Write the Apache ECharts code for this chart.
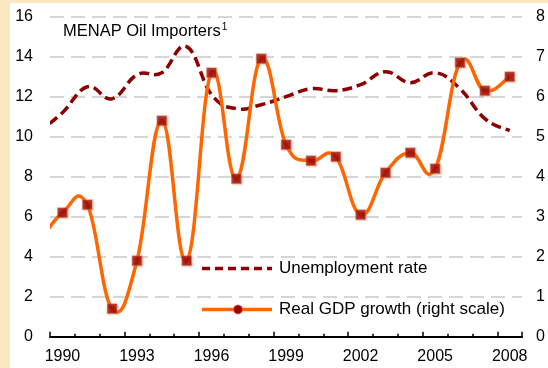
<!DOCTYPE html>
<html>
<head>
<meta charset="utf-8">
<script src="https://cdn.jsdelivr.net/npm/echarts@6/dist/echarts.min.js"></script>
<style>
  html, body { margin: 0; padding: 0; background: #fce7c3; }
  #panel { position: absolute; left: 10px; top: 3px; width: 538px; height: 365px; background: #ffffff; }
  #chart { position: absolute; left: 0; top: 0; width: 548px; height: 368px; }
</style>
</head>
<body>
<div id="panel"></div>
<div id="chart"></div>
<script>
// Years shown on the category axis
var years = ['1990','1991','1992','1993','1994','1995','1996','1997','1998','1999',
             '2000','2001','2002','2003','2004','2005','2006','2007','2008'];
var yearNums = [1990,1991,1992,1993,1994,1995,1996,1997,1998,1999,
                2000,2001,2002,2003,2004,2005,2006,2007,2008];

// Unemployment rate, percent (left scale); the 1989 value only shapes the clipped lead-in
var unemployment1989 = 10.2;
var unemployment = [11.2, 12.5, 11.9, 13.1, 13.2, 14.5, 12.1, 11.4, 11.6, 12.0,
                    12.4, 12.3, 12.6, 13.25, 12.7, 13.2, 12.4, 10.9, 10.3];

// Real GDP growth, percent (right scale)
var gdp1989 = 2.3;
var gdpGrowth = [3.1, 3.3, 0.7, 1.9, 5.4, 1.9, 6.6, 3.95, 6.95, 4.8,
                 4.4, 4.5, 3.05, 4.1, 4.6, 4.2, 6.85, 6.15, 6.5];

// Axis tick labels
var leftTicks = [0, 2, 4, 6, 8, 10, 12, 14, 16];
var rightTicks = [0, 1, 2, 3, 4, 5, 6, 7, 8];

var FONT = 'Liberation Sans, Arial, sans-serif';
var RED = '#8b0000';
var ORANGE = '#ff6600';

function withLead(lead, values) {
  var pts = [[yearNums[0] - 1, lead]];
  for (var i = 0; i < values.length; i++) pts.push([yearNums[i], values[i]]);
  return pts;
}
function plain(values) {
  return values.map(function (v, i) { return [yearNums[i], v]; });
}

// Smoothed line through the data (cardinal-spline segments as cubic Beziers),
// positioned with the axes' own coordinate conversion.
function smoothLine(points, lineStyle) {
  return function (params, api) {
    if (params.dataIndex !== 0) return null;
    var p = points.map(function (d) { return api.coord(d); });
    var n = p.length;
    var k = 0.21;
    var d = 'M' + p[0][0] + ' ' + p[0][1];
    for (var i = 0; i < n - 1; i++) {
      var p0 = p[i > 0 ? i - 1 : i], p1 = p[i], p2 = p[i + 1], p3 = p[i + 2 < n ? i + 2 : i + 1];
      var c1x = p1[0] + (p2[0] - p0[0]) * k, c1y = p1[1] + (p2[1] - p0[1]) * k;
      var c2x = p2[0] - (p3[0] - p1[0]) * k, c2y = p2[1] - (p3[1] - p1[1]) * k;
      d += ' C' + c1x + ' ' + c1y + ' ' + c2x + ' ' + c2y + ' ' + p2[0] + ' ' + p2[1];
    }
    return {
      type: 'path',
      shape: { pathData: d },
      style: lineStyle
    };
  };
}

var unemploymentPts = withLead(unemployment1989, unemployment);
var gdpPts = withLead(gdp1989, gdpGrowth);

var chart = echarts.init(document.getElementById('chart'), null, { renderer: 'canvas' });

chart.setOption({
  backgroundColor: 'transparent',
  animation: false,
  grid: { left: 50, right: 25, top: 16.7, bottom: 31.3 },
  xAxis: [
    {
      type: 'category', data: years, boundaryGap: true, position: 'bottom',
      axisLine: { show: true, lineStyle: { color: '#000', width: 2 } },
      axisTick: { show: true, inside: true, length: 3, interval: 0, lineStyle: { color: '#000', width: 1.5 } },
      axisLabel: { interval: 2, margin: 12, color: '#000', fontSize: 16, fontFamily: FONT },
      splitLine: { show: false }
    },
    {
      type: 'category', data: years, boundaryGap: true, position: 'bottom',
      axisLine: { show: false },
      axisTick: { show: true, inside: true, length: 5, interval: 2, lineStyle: { color: '#000', width: 1.5 } },
      axisLabel: { show: false },
      splitLine: { show: false }
    },
    {
      type: 'value', min: 1989.5, max: 2008.5, position: 'bottom', show: false,
      splitLine: { show: false }
    }
  ],
  yAxis: [
    {
      type: 'value', min: leftTicks[0], max: leftTicks[leftTicks.length - 1], interval: 2,
      position: 'left',
      axisLine: { show: false }, axisTick: { show: false },
      axisLabel: { margin: 17, color: '#000', fontSize: 16, fontFamily: FONT },
      splitLine: { show: true, lineStyle: { color: '#d6d6d6', width: 2, type: [14, 7] } }
    },
    {
      type: 'value', min: rightTicks[0], max: rightTicks[rightTicks.length - 1], interval: 1,
      position: 'right',
      axisLine: { show: false }, axisTick: { show: false },
      axisLabel: { margin: 14, color: '#000', fontSize: 16, fontFamily: FONT },
      splitLine: { show: false }
    }
  ],
  series: [
    {
      name: 'Unemployment rate', type: 'custom', xAxisIndex: 2, yAxisIndex: 0,
      data: unemploymentPts, clip: true, z: 3,
      renderItem: smoothLine(unemploymentPts, {
        fill: 'none', stroke: RED, lineWidth: 3.5, lineDash: [10, 5], lineCap: 'butt'
      })
    },
    {
      name: 'Real GDP growth (right scale)', type: 'custom', xAxisIndex: 2, yAxisIndex: 1,
      data: gdpPts, clip: true, z: 4,
      renderItem: smoothLine(gdpPts, {
        fill: 'none', stroke: ORANGE, lineWidth: 3.5
      })
    },
    {
      name: 'Real GDP growth markers', type: 'scatter', xAxisIndex: 2, yAxisIndex: 1,
      data: plain(gdpGrowth), symbol: 'rect', symbolSize: 9.5, z: 5,
      itemStyle: {
        color: '#990000', borderColor: 'rgba(205,100,60,0.6)', borderWidth: 1.2,
        shadowColor: 'rgba(200,110,70,0.6)', shadowBlur: 2, shadowOffsetX: 1, shadowOffsetY: 1
      }
    }
  ],
  graphic: [
    {
      type: 'text', left: 63, top: 22,
      style: {
        text: '{t|MENAP Oil Importers}{s|1}',
        rich: {
          t: { fontSize: 16.5, fontFamily: FONT, fill: '#000' },
          s: { fontSize: 10, fontFamily: FONT, fill: '#000', verticalAlign: 'top', padding: [0, 0, 8, 1] }
        }
      }
    },
    {
      type: 'line', shape: { x1: 202, y1: 268.5, x2: 272, y2: 268.5 },
      style: { stroke: RED, lineWidth: 3.5, lineDash: [8, 5] }
    },
    {
      type: 'text', x: 279, y: 268.5,
      style: { text: 'Unemployment rate', fontSize: 17, fontFamily: FONT, fill: '#000', verticalAlign: 'middle' }
    },
    {
      type: 'line', shape: { x1: 202, y1: 309.5, x2: 272, y2: 309.5 },
      style: { stroke: ORANGE, lineWidth: 3.5 }
    },
    {
      type: 'circle', shape: { cx: 238, cy: 309.5, r: 4.5 },
      style: { fill: '#990000', stroke: 'rgba(225,110,60,0.8)', lineWidth: 1 }
    },
    {
      type: 'text', x: 279, y: 309.5,
      style: { text: 'Real GDP growth (right scale)', fontSize: 17, fontFamily: FONT, fill: '#000', verticalAlign: 'middle' }
    }
  ]
});
</script>
</body>
</html>
